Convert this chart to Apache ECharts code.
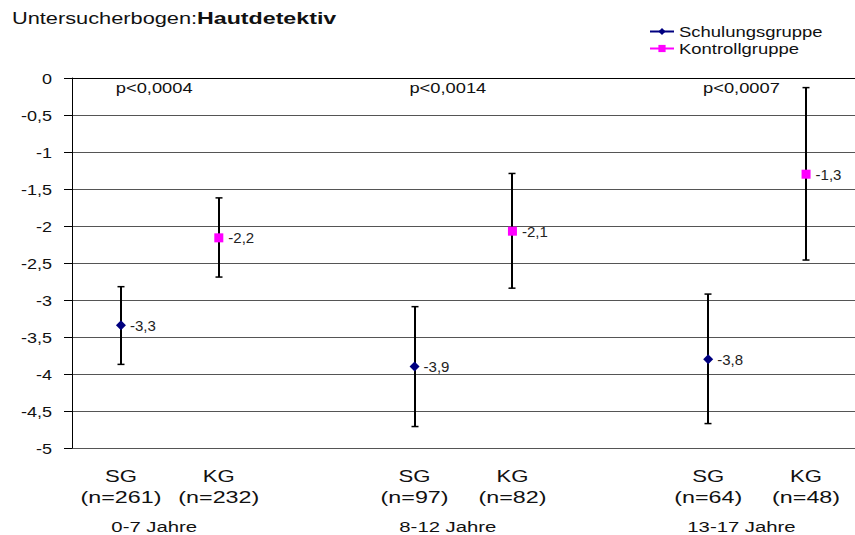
<!DOCTYPE html>
<html><head><meta charset="utf-8">
<script src="https://cdn.jsdelivr.net/npm/echarts@6/dist/echarts.min.js"></script>
<style>html,body{margin:0;padding:0;background:#fff}#chart{width:855px;height:535px}</style>
</head><body><div id="chart"></div>
<script>
// ---- data ----
const groups = ['0-7 Jahre', '8-12 Jahre', '13-17 Jahre'];
const pValues = ['p<0,0004', 'p<0,0014', 'p<0,0007'];
const nSG = [261, 97, 64];
const nKG = [232, 82, 48];
const sgMean = [-3.34, -3.90, -3.80];
const sgLow  = [-3.87, -4.71, -4.67];
const sgHigh = [-2.82, -3.09, -2.92];
const kgMean = [-2.16, -2.07, -1.30];
const kgLow  = [-2.69, -2.84, -2.46];
const kgHigh = [-1.62, -1.29, -0.13];
const seriesNames = ['Schulungsgruppe', 'Kontrollgruppe'];
const titleParts = ['Untersucherbogen:', 'Hautdetektiv'];
const yMin = -5, yMax = 0, yStep = 0.5;

// ---- build categories / series data ----
const FONT = "'Liberation Sans', Arial, sans-serif";
const categories = [];
const sgData = [], kgData = [], errData = [];
groups.forEach((g, i) => {
  const base = categories.length;
  categories.push('SG\n(n=' + nSG[i] + ')');
  categories.push('KG\n(n=' + nKG[i] + ')');
  sgData.push(sgMean[i]); sgData.push('-');
  kgData.push('-'); kgData.push(kgMean[i]);
  errData.push([base, sgLow[i], sgHigh[i]]);
  errData.push([base + 1, kgLow[i], kgHigh[i]]);
  if (i < groups.length - 1) { categories.push(''); sgData.push('-'); kgData.push('-'); }
});
const comma = v => String(v).replace('.', ',');

const chart = echarts.init(document.getElementById('chart'), null, {renderer: 'svg'});
const option = {
  animation: false,
  textStyle: {fontFamily: FONT},
  grid: {left: 72, right: 0, top: 78, bottom: 87},
  legend: {
    data: seriesNames, orient: 'vertical', left: 644, top: 19,
    itemWidth: 24, itemHeight: 9, itemGap: 2,
    textStyle: {fontFamily: FONT, fontSize: 15, color: '#111', lineHeight: 15}
  },
  xAxis: [{
    type: 'category', data: categories,
    axisLine: {lineStyle: {color: '#000', width: 1}},
    axisTick: {show: false},
    axisLabel: {interval: 0, margin: 18, fontFamily: FONT, fontSize: 17, lineHeight: 21, color: '#111'},
    splitLine: {show: false}
  }, {
    type: 'category', data: categories, position: 'top',
    axisLine: {show: true, lineStyle: {color: '#000', width: 1}},
    axisTick: {show: false}, axisLabel: {show: false}, splitLine: {show: false}
  }],
  yAxis: {
    type: 'value', min: yMin, max: yMax, interval: yStep,
    axisLine: {show: true, lineStyle: {color: '#000', width: 1}},
    axisTick: {show: true, length: 8, lineStyle: {color: '#000'}},
    axisLabel: {margin: 20, fontFamily: FONT, fontSize: 15, color: '#111', formatter: v => comma(v)},
    splitLine: {show: true, lineStyle: {color: '#555', width: 1}}
  },
  series: [
    {
      type: 'custom', name: 'err', z: 2,
      encode: {x: 0, y: [1, 2]},
      data: errData,
      renderItem: (params, api) => {
        const p1 = api.coord([api.value(0), api.value(1)]);
        const p2 = api.coord([api.value(0), api.value(2)]);
        const x = Math.round(p1[0]);
        const w = 3.5;
        return {type: 'group', children: [
          {type: 'line', shape: {x1: x, y1: p1[1], x2: x, y2: p2[1]}, style: {stroke: '#000', lineWidth: 2}},
          {type: 'line', shape: {x1: x - w, y1: p1[1], x2: x + w, y2: p1[1]}, style: {stroke: '#000', lineWidth: 1.5}},
          {type: 'line', shape: {x1: x - w, y1: p2[1], x2: x + w, y2: p2[1]}, style: {stroke: '#000', lineWidth: 1.5}}
        ]};
      }
    },
    {
      type: 'line', name: seriesNames[0], data: sgData, z: 5,
      symbol: 'diamond', symbolSize: [10, 10], showAllSymbol: true,
      itemStyle: {color: '#000080'}, lineStyle: {color: '#000080', width: 1.5},
      label: {show: true, position: 'right', distance: 4, fontFamily: FONT, fontSize: 15, color: '#222', formatter: p => comma(p.value.toFixed(1))}
    },
    {
      type: 'line', name: seriesNames[1], data: kgData, z: 5,
      symbol: 'rect', symbolSize: 9, showAllSymbol: true,
      itemStyle: {color: '#ff00ff'}, lineStyle: {color: '#ff00ff', width: 1.5},
      label: {show: true, position: 'right', distance: 5, fontFamily: FONT, fontSize: 15, color: '#222', formatter: p => comma(p.value.toFixed(1))}
    }
  ]
};
chart.setOption(option);

// group annotations placed relative to category positions
function addGraphics() {
  const g = [];
  g.push({type: 'text', left: 12, top: 10, style: {text: titleParts[0], font: '16px ' + FONT, fill: '#111'}});
  g.push({type: 'text', left: 197, top: 10, style: {text: titleParts[1], font: 'bold 16px ' + FONT, fill: '#111'}});
  groups.forEach((name, i) => {
    const xs = chart.convertToPixel({xAxisIndex: 0}, 3 * i);
    const xk = chart.convertToPixel({xAxisIndex: 0}, 3 * i + 1);
    const cx = xs + 0.34 * (xk - xs);
    const yTop = chart.convertToPixel({yAxisIndex: 0}, yMax);
    g.push({type: 'text', x: cx, y: yTop + 9, style: {text: pValues[i], font: '15px ' + FONT, fill: '#111', textAlign: 'center', textVerticalAlign: 'middle'}});
    g.push({type: 'text', x: cx, y: 527, style: {text: name, font: '14px ' + FONT, fill: '#111', textAlign: 'center', textVerticalAlign: 'middle'}});
  });
  chart.setOption({graphic: g});
}
addGraphics();

// horizontal stretch of text to mimic the reference rendering
function stretch() {
  document.querySelectorAll('#chart svg text').forEach(t => {
    const s = (t.textContent || '').trim();
    let f = 1;
    if (s === titleParts[0]) f = 1.36;
    else if (s === titleParts[1]) f = 1.45;
    else if (seriesNames.includes(s)) f = 1.23;
    else if (/^(SG|KG)$/.test(s)) f = 1.3;
    else if (/^\(n=/.test(s)) f = 1.37;
    else if (groups.includes(s)) f = 1.45;
    else if (pValues.includes(s)) f = 1.22;
    else if (/^-?\d(,5)?$/.test(s)) f = 1.2;
    t.removeAttribute('textLength');
    t.removeAttribute('lengthAdjust');
    if (f === 1) return;
    const w = t.getComputedTextLength();
    if (w > 0) {
      t.setAttribute('textLength', (w * f).toFixed(2));
      t.setAttribute('lengthAdjust', 'spacingAndGlyphs');
    }
  });
}
chart.on('finished', stretch);
setTimeout(stretch, 50);
setTimeout(stretch, 300);
</script></body></html>
